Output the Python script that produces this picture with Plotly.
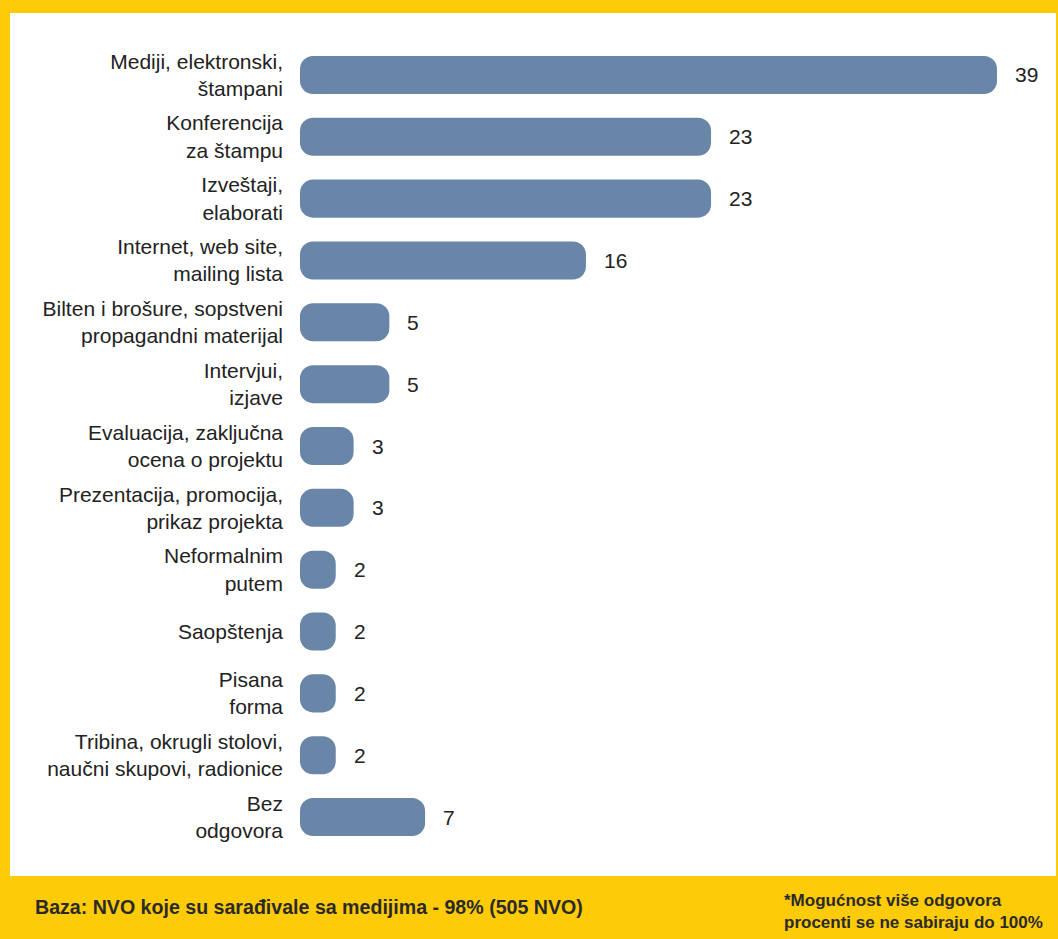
import plotly.graph_objects as go

categories = [
    "Mediji, elektronski,<br>štampani",
    "Konferencija<br>za štampu",
    "Izveštaji,<br>elaborati",
    "Internet, web site,<br>mailing lista",
    "Bilten i brošure, sopstveni<br>propagandni materijal",
    "Intervjui,<br>izjave",
    "Evaluacija, zaključna<br>ocena o projektu",
    "Prezentacija, promocija,<br>prikaz projekta",
    "Neformalnim<br>putem",
    "Saopštenja",
    "Pisana<br>forma",
    "Tribina, okrugli stolovi,<br>naučni skupovi, radionice",
    "Bez<br>odgovora",
]
values = [39, 23, 23, 16, 5, 5, 3, 3, 2, 2, 2, 2, 7]

footer_left = "Baza: NVO koje su sarađivale sa medijima - 98% (505 NVO)"
footer_right = "*Mogućnost više odgovora<br>procenti se ne sabiraju do 100%"

YELLOW = "#FECB09"
BAR = "#6985A7"
FONT = "Liberation Sans, Arial, sans-serif"
RADIUS = 13

fig = go.Figure()
# floating bars (explicit base) get rounded corners on both ends
fig.add_trace(go.Bar(
    x=values, base=[0] * len(values), y=categories, orientation="h",
    marker=dict(color=BAR, cornerradius=RADIUS, line=dict(width=0)),
    hoverinfo="skip",
))

for c, v in zip(categories, values):
    fig.add_annotation(x=v, y=c, text=str(v), showarrow=False,
                       xanchor="left", xshift=16,
                       font=dict(family=FONT, size=21, color="#222222"))

W, H = 1058, 939
fig.add_shape(type="rect", xref="paper", yref="paper",
              x0=(10 - 300) / 758, x1=(1056 - 300) / 758,
              y0=-(876 - 848) / 804, y1=1 + (44 - 13) / 804,
              fillcolor="white", line=dict(width=0), layer="below")

fig.add_annotation(xref="paper", yref="paper",
                   x=(33 - 300) / 758, y=-(907 - 848) / 804,
                   text="<b>" + footer_left + "</b>", showarrow=False,
                   xanchor="left", yanchor="middle",
                   font=dict(family=FONT, size=19.6, color="#2a2a2a"))
fig.add_annotation(xref="paper", yref="paper",
                   x=(782 - 300) / 758, y=-(911 - 848) / 804,
                   text="<b>" + footer_right + "</b>", showarrow=False,
                   xanchor="left", yanchor="middle", align="left",
                   font=dict(family=FONT, size=17, color="#2a2a2a"))

fig.update_layout(
    width=W, height=H,
    margin=dict(l=300, r=0, t=44, b=91),
    paper_bgcolor=YELLOW, plot_bgcolor="rgba(0,0,0,0)",
    bargap=0.385, showlegend=False,
    font=dict(family=FONT, size=21, color="#222222"),
    xaxis=dict(range=[0, max(values) * 758 / 697], visible=False, fixedrange=True),
    yaxis=dict(autorange="reversed", showgrid=False, zeroline=False, showline=False,
               ticks="", ticklabelstandoff=16, fixedrange=True,
               tickfont=dict(family=FONT, size=21, color="#222222")),
)

fig.write_html("out.html", config={"displayModeBar": False},
               post_script="document.body.style.margin='0';document.body.style.overflow='hidden';")
